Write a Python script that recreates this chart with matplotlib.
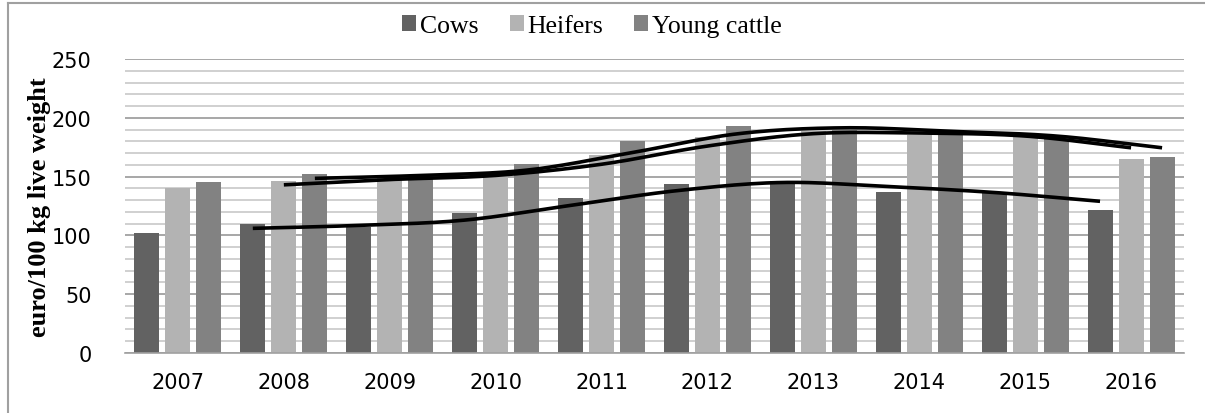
import numpy as np
import matplotlib
matplotlib.use("Agg")
from matplotlib import pyplot as plt
from matplotlib.lines import Line2D

years = ["2007", "2008", "2009", "2010", "2011", "2012", "2013", "2014", "2015", "2016"]
cows = [102, 110, 107, 119, 132, 144, 146, 137, 136, 122]
heifers = [140, 146, 149, 153, 168, 184, 189, 185, 184, 165]
young_cattle = [145, 152, 150, 161, 180, 193, 190, 187, 182, 167]

series = [
    ("Cows", cows, "#626262"),
    ("Heifers", heifers, "#b3b3b3"),
    ("Young cattle", young_cattle, "#828282"),
]


def moving_average(values, n=2):
    v = np.asarray(values, dtype=float)
    return np.convolve(v, np.ones(n) / n, mode="valid")


def smooth(x, y, steps=20):
    # Catmull-Rom curve through the points, like a smoothed spreadsheet line
    x = np.asarray(x, float)
    y = np.asarray(y, float)
    px = np.concatenate([[2 * x[0] - x[1]], x, [2 * x[-1] - x[-2]]])
    py = np.concatenate([[2 * y[0] - y[1]], y, [2 * y[-1] - y[-2]]])
    xs, ys = [], []
    t = np.linspace(0, 1, steps, endpoint=False)
    for i in range(1, len(px) - 2):
        for p, out in ((px, xs), (py, ys)):
            p0, p1, p2, p3 = p[i - 1], p[i], p[i + 1], p[i + 2]
            out.extend(0.5 * (2 * p1 + (-p0 + p2) * t
                              + (2 * p0 - 5 * p1 + 4 * p2 - p3) * t ** 2
                              + (-p0 + 3 * p1 - 3 * p2 + p3) * t ** 3))
    xs.append(x[-1])
    ys.append(y[-1])
    return xs, ys


fig = plt.figure(figsize=(12.05, 4.14), dpi=100)
ax = fig.add_axes([125 / 1205, 60 / 414, 1059 / 1205, 294 / 414])

x = np.arange(len(years))
width = 0.236
step = 0.293

for i, (name, vals, color) in enumerate(series):
    ax.bar(x + (i - 1) * step, vals, width, color=color, label=name, zorder=2)

for i, (name, vals, color) in enumerate(series):
    ma = moving_average(vals)
    xs, ys = smooth(x[1:] + (i - 1) * step, ma)
    ax.plot(xs, ys, color="black", lw=2.6, zorder=3, solid_capstyle="butt")

ax.set_xlim(-0.5, len(years) - 0.5)
ax.set_ylim(0, 250)
ax.set_yticks(np.arange(0, 251, 50))
ax.set_yticks(np.arange(0, 251, 10), minor=True)
ax.grid(axis="y", which="major", color="#a0a0a0", lw=1.3, zorder=0)
ax.grid(axis="y", which="minor", color="#c4c4c4", lw=1.1, zorder=0)
ax.set_axisbelow(True)

ax.set_xticks(x)
ax.set_xticklabels(years)
ax.tick_params(axis="both", which="both", length=0, labelsize=15)
ax.tick_params(axis="x", pad=14)
ax.tick_params(axis="y", pad=24)
for s in ["left", "top", "right"]:
    ax.spines[s].set_visible(False)
ax.spines["bottom"].set_color("#a0a0a0")
ax.spines["bottom"].set_linewidth(1.2)

fig.text(40 / 1205, 1 - 207 / 414, "euro/100 kg live weight", rotation=90,
         ha="center", va="center", fontsize=19, fontweight="bold",
         family="Liberation Serif")

fig.legend(loc="center", bbox_to_anchor=(592 / 1205, 1 - 27 / 414), ncol=3,
           frameon=False, prop={"family": "Liberation Serif", "size": 18.5},
           handlelength=0.55, handleheight=0.55, handletextpad=0.15,
           columnspacing=1.2)

# outer frame
fig.add_artist(Line2D([8 / 1205, 8 / 1205], [0, 1 - 4 / 414],
                      transform=fig.transFigure, color="#a0a0a0", lw=1.5))
fig.add_artist(Line2D([8 / 1205, 1], [1 - 4 / 414, 1 - 4 / 414],
                      transform=fig.transFigure, color="#a0a0a0", lw=1.5))

fig.savefig("out.png", dpi=100)
